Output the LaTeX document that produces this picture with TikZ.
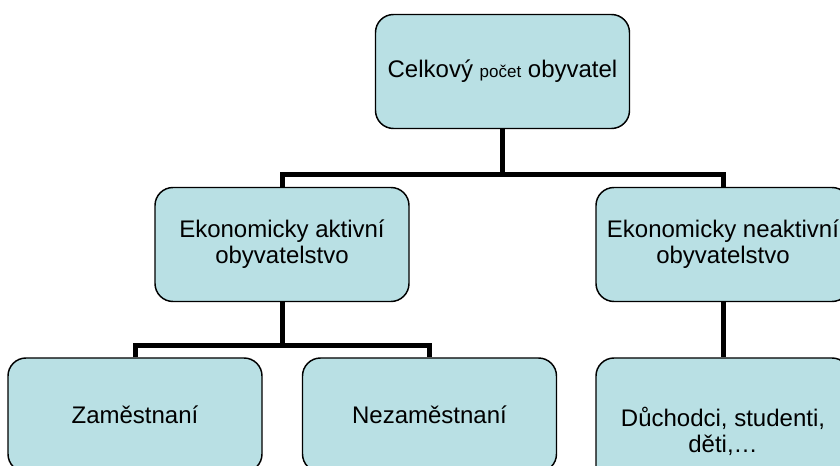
\documentclass[tikz,border=0pt]{standalone}
\usepackage{fontspec}
\setmainfont{Liberation Sans}
\definecolor{boxfill}{RGB}{185,224,228}
\begin{document}
\begin{tikzpicture}[x=0.75pt,y=-0.75pt,
  box/.style={draw=black, line width=1.1pt, fill=boxfill, rounded corners=13.5pt,
    minimum width=190.5pt, minimum height=85.5pt, inner sep=0pt, align=center,
    font=\fontsize{18pt}{19.5pt}\selectfont},
  conn/.style={line width=3.75pt, line join=miter}]
\clip (0,0) rectangle (840,466);
\fill[white] (0,0) rectangle (840,466);
% connectors
\coordinate (j1) at (502.5,175);
\coordinate (j2) at (282,345.5);
\node[box] (top) at (502.5,71.5) {Celkový {\fontsize{12.75pt}{14pt}\selectfont počet} obyvatel};
\node[box] (midL) at (282,244.5) {Ekonomicky aktivní\\obyvatelstvo};
\node[box] (midR) at (723,244.5) {Ekonomicky neaktivní\\obyvatelstvo};
\node[box] (botL) at (135,415) {Zaměstnaní};
\node[box] (botM) at (429.5,415) {Nezaměstnaní};
\node[box, minimum height=109.5pt] (botR) at (723,431) {Důchodci, studenti,\\děti,…};
\draw[conn] (top.south) -- (j1);
\draw[conn] (midL.north) -- (midL.north |- j1) -- (midR.north |- j1) -- (midR.north);
\draw[conn] (midL.south) -- (j2);
\draw[conn] (botL.north) -- (botL.north |- j2) -- (botM.north |- j2) -- (botM.north);
\draw[conn] (midR.south) -- (botR.north);
\end{tikzpicture}
\end{document}
